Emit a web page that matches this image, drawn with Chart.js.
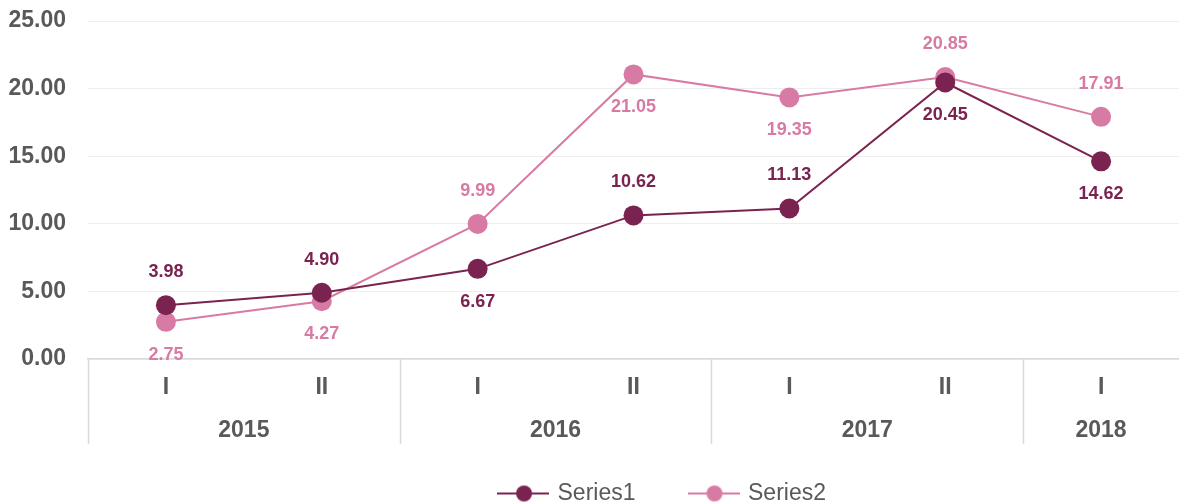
<!DOCTYPE html>
<html>
<head>
<meta charset="utf-8">
<script src="https://cdn.jsdelivr.net/npm/chart.js@4/dist/chart.umd.min.js"></script>
<style>
html,body{margin:0;padding:0;background:#fff;}
#wrap{width:1179px;height:503px;}
</style>
</head>
<body>
<div id="wrap"><canvas id="chart"></canvas></div>
<script>
const halves=["I","II","I","II","I","II","I"];
const years=["2015","2015","2016","2016","2017","2017","2018"];
const series1=[3.98,4.90,6.67,10.62,11.13,20.45,14.62];
const series2=[2.75,4.27,9.99,21.05,19.35,20.85,17.91];
// label above (-1) or below (1) the point
const pos1=[-1,-1,1,-1,-1,1,1];
const pos2=[1,1,-1,1,1,-1,-1];

const c1="#7B2350",c2="#D87BA4",txt="#595959";
const font="'Liberation Sans', Arial, sans-serif";

// legend marker: short line with a dot on it
function marker(color){
  const cv=document.createElement("canvas");
  cv.width=52;cv.height=20;
  const g=cv.getContext("2d");
  g.strokeStyle=color;g.lineWidth=2;
  g.beginPath();g.moveTo(0,10);g.lineTo(52,10);g.stroke();
  g.fillStyle=color;
  g.beginPath();g.arc(27,10,8,0,Math.PI*2);g.fill();
  return cv;
}

const labelsPlugin={
  id:"labels",
  afterDatasetsDraw(chart){
    const ctx=chart.ctx;
    ctx.save();
    ctx.font="bold 18px "+font;
    ctx.textAlign="center";
    ctx.textBaseline="middle";
    chart.data.datasets.forEach((ds,di)=>{
      const meta=chart.getDatasetMeta(di);
      const pos=di===0?pos1:pos2;
      ctx.fillStyle=ds.borderColor;
      meta.data.forEach((pt,i)=>{
        ctx.fillText(ds.data[i].toFixed(2),pt.x,pt.y+pos[i]*33);
      });
    });
    ctx.restore();
  }
};

const groupPlugin={
  id:"groups",
  afterLayout(chart){
    // Excel puts the legend a bit right of centre
    const lg=chart.legend;
    lg.left+=73;lg.right+=73;
    lg.top+=12;lg.bottom+=12;
  },
  afterDraw(chart){
    const ctx=chart.ctx,x=chart.scales.x,area=chart.chartArea;
    const step=x.getPixelForValue(1)-x.getPixelForValue(0);
    ctx.save();
    ctx.strokeStyle="#d9d9d9";
    ctx.lineWidth=1.5;
    ctx.font="bold 23px "+font;
    ctx.fillStyle=txt;
    ctx.textAlign="center";
    ctx.textBaseline="middle";
    let start=0;
    for(let i=0;i<=years.length;i++){
      if(i===years.length||years[i]!==years[start]){
        const l=x.getPixelForValue(start)-step/2;
        const r=x.getPixelForValue(i-1)+step/2;
        ctx.fillText(years[start],(l+r)/2,431);
        start=i;
      }
    }
    // separators at the left edge and between years (right edge falls off the canvas)
    for(let i=0;i<years.length;i++){
      if(i===0||years[i]!==years[i-1]){
        const px=Math.round(x.getPixelForValue(i)-step/2)+0.5;
        ctx.beginPath();ctx.moveTo(px,area.bottom);ctx.lineTo(px,444);ctx.stroke();
      }
    }
    ctx.restore();
  }
};

new Chart(document.getElementById("chart"),{
  type:"line",
  data:{
    labels:halves,
    datasets:[
      {label:"Series1",data:series1,borderColor:c1,backgroundColor:c1,borderWidth:2,pointRadius:10,pointHoverRadius:10,pointBorderWidth:0},
      {label:"Series2",data:series2,borderColor:c2,backgroundColor:c2,borderWidth:2,pointRadius:10,pointHoverRadius:10,pointBorderWidth:0}
    ]
  },
  options:{
    responsive:true,
    maintainAspectRatio:false,
    animation:false,
    layout:{autoPadding:false,padding:{top:21,right:-1,left:0,bottom:0}},
    plugins:{
      tooltip:{enabled:false},
      legend:{
        position:"bottom",
        labels:{
          usePointStyle:true,
          pointStyleWidth:46,
          color:txt,
          font:{family:font,size:23},
          padding:55,
          generateLabels(chart){
            return chart.data.datasets.map((ds,i)=>({
              text:ds.label,fillStyle:ds.borderColor,strokeStyle:ds.borderColor,
              lineWidth:0,pointStyle:marker(ds.borderColor),datasetIndex:i,fontColor:txt
            }));
          }
        }
      }
    },
    scales:{
      x:{
        offset:true,
        grid:{display:false},
        border:{color:"#d9d9d9",width:1.5},
        ticks:{color:txt,font:{family:font,size:23,weight:"bold"},padding:7,maxRotation:0},
        afterFit(s){s.height=56;s.paddingLeft=0;s.paddingRight=0;}
      },
      y:{
        min:0,max:25,
        ticks:{stepSize:5,color:txt,font:{family:font,size:23,weight:"bold"},padding:22,callback:v=>v.toFixed(2)},
        grid:{color:"#eeeeee",drawTicks:false},
        border:{display:false},
        afterFit(s){s.width=88;s.paddingTop=0;s.paddingBottom=0;}
      }
    }
  },
  plugins:[labelsPlugin,groupPlugin]
});
</script>
</body>
</html>
